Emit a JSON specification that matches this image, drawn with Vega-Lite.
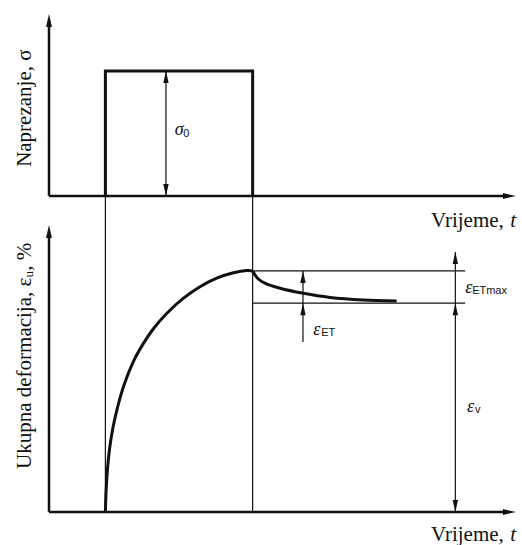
{
  "$schema": "https://vega.github.io/schema/vega-lite/v6.json",
  "width": 466,
  "height": 545,
  "autosize": {"type": "none"},
  "padding": {"left": 49, "top": 0, "right": 7, "bottom": 0},
  "background": "white",
  "config": {"view": {"stroke": null}},
  "datasets": {
    "lines": [
      {"g": "axis", "s": "ya1", "i": 0, "t": 0, "v": 100},
      {"g": "axis", "s": "ya1", "i": 1, "t": 0, "v": 155.5},
      {"g": "axis", "s": "xa1", "i": 0, "t": 0, "v": 100},
      {"g": "axis", "s": "xa1", "i": 1, "t": 98.5, "v": 100},
      {"g": "axis", "s": "ya2", "i": 0, "t": 0, "v": 0},
      {"g": "axis", "s": "ya2", "i": 1, "t": 0, "v": 88.7},
      {"g": "axis", "s": "xa2", "i": 0, "t": 0, "v": 0},
      {"g": "axis", "s": "xa2", "i": 1, "t": 98.5, "v": 0},
      {"g": "load", "s": "r", "i": 0, "t": 12.1, "v": 100},
      {"g": "load", "s": "r", "i": 1, "t": 12.1, "v": 139.6},
      {"g": "load", "s": "r", "i": 2, "t": 43.7, "v": 139.6},
      {"g": "load", "s": "r", "i": 3, "t": 43.7, "v": 100},
      {"g": "guide", "s": "g1", "i": 0, "t": 12.1, "v": 0},
      {"g": "guide", "s": "g1", "i": 1, "t": 12.1, "v": 100},
      {"g": "guide", "s": "g2", "i": 0, "t": 43.7, "v": 0},
      {"g": "guide", "s": "g2", "i": 1, "t": 43.7, "v": 100},
      {"g": "guide", "s": "h1", "i": 0, "t": 43.7, "v": 76.3},
      {"g": "guide", "s": "h1", "i": 1, "t": 89.3, "v": 76.3},
      {"g": "guide", "s": "h2", "i": 0, "t": 43.7, "v": 66.1},
      {"g": "guide", "s": "h2", "i": 1, "t": 89.3, "v": 66.1},
      {"g": "guide", "s": "d1", "i": 0, "t": 25.1, "v": 100},
      {"g": "guide", "s": "d1", "i": 1, "t": 25.1, "v": 139.6},
      {"g": "guide", "s": "d2", "i": 0, "t": 54.5, "v": 76.3},
      {"g": "guide", "s": "d2", "i": 1, "t": 54.5, "v": 53.8},
      {"g": "guide", "s": "d3", "i": 0, "t": 87.2, "v": 82.3},
      {"g": "guide", "s": "d3", "i": 1, "t": 87.2, "v": 0},
      {"g": "curve", "s": "c1", "i": 0, "t": 12.1, "v": 0},
      {"g": "curve", "s": "c1", "i": 1, "t": 12.25, "v": 6.5},
      {"g": "curve", "s": "c1", "i": 2, "t": 12.55, "v": 13.5},
      {"g": "curve", "s": "c1", "i": 3, "t": 13.0, "v": 20.0},
      {"g": "curve", "s": "c1", "i": 4, "t": 13.7, "v": 26.5},
      {"g": "curve", "s": "c1", "i": 5, "t": 14.6, "v": 32.5},
      {"g": "curve", "s": "c1", "i": 6, "t": 16.1, "v": 40.2},
      {"g": "curve", "s": "c1", "i": 7, "t": 18.1, "v": 47.6},
      {"g": "curve", "s": "c1", "i": 8, "t": 20.2, "v": 53.2},
      {"g": "curve", "s": "c1", "i": 9, "t": 22.4, "v": 58.0},
      {"g": "curve", "s": "c1", "i": 10, "t": 25.3, "v": 62.9},
      {"g": "curve", "s": "c1", "i": 11, "t": 28.8, "v": 67.6},
      {"g": "curve", "s": "c1", "i": 12, "t": 32.4, "v": 71.3},
      {"g": "curve", "s": "c1", "i": 13, "t": 36.0, "v": 74.0},
      {"g": "curve", "s": "c1", "i": 14, "t": 39.6, "v": 75.7},
      {"g": "curve", "s": "c1", "i": 15, "t": 42.4, "v": 76.4},
      {"g": "curve", "s": "c1", "i": 16, "t": 43.7, "v": 76.3},
      {"g": "curve", "s": "c2", "i": 0, "t": 43.7, "v": 76.3},
      {"g": "curve", "s": "c2", "i": 1, "t": 44.8, "v": 73.9},
      {"g": "curve", "s": "c2", "i": 2, "t": 46.2, "v": 72.5},
      {"g": "curve", "s": "c2", "i": 3, "t": 49.6, "v": 70.8},
      {"g": "curve", "s": "c2", "i": 4, "t": 54.6, "v": 69.2},
      {"g": "curve", "s": "c2", "i": 5, "t": 60.3, "v": 67.9},
      {"g": "curve", "s": "c2", "i": 6, "t": 67.4, "v": 67.1},
      {"g": "curve", "s": "c2", "i": 7, "t": 74.6, "v": 66.8}
    ],
    "heads": [
      {"k": "axis", "dir": "up", "t": 0, "v": 157.6},
      {"k": "axis", "dir": "up", "t": 0, "v": 90.8},
      {"k": "axis", "dir": "right", "t": 100.2, "v": 100},
      {"k": "axis", "dir": "right", "t": 100.2, "v": 0},
      {"k": "dim", "dir": "up", "t": 25.1, "v": 139.6},
      {"k": "dim", "dir": "down", "t": 25.1, "v": 100},
      {"k": "dim", "dir": "up", "t": 54.5, "v": 76.3},
      {"k": "dim", "dir": "up", "t": 54.5, "v": 66.1},
      {"k": "dim", "dir": "up", "t": 87.2, "v": 82.3},
      {"k": "dim", "dir": "up", "t": 87.2, "v": 66.1},
      {"k": "dim", "dir": "down", "t": 87.2, "v": 0}
    ],
    "labels": [
      {"k": "rot", "txt": "Naprezanje, σ", "t": -5.15, "v": 127.8},
      {"k": "rot", "txt": "Ukupna deformacija, εᵤ, %", "t": -5.15, "v": 49.4},
      {"k": "time", "txt": "Vrijeme,", "t": 97.6, "v": 90.2},
      {"k": "time", "txt": "Vrijeme,", "t": 97.6, "v": -9.2},
      {"k": "timevar", "txt": "t", "t": 99.0, "v": 90.2},
      {"k": "timevar", "txt": "t", "t": 99.0, "v": -9.2},
      {"k": "sym", "txt": "σ", "t": 27.0, "v": 120.9},
      {"k": "sym", "txt": "ε", "t": 56.7, "v": 57.6},
      {"k": "sym", "txt": "ε", "t": 89.3, "v": 71.0},
      {"k": "sym", "txt": "ε", "t": 89.7, "v": 33.2},
      {"k": "sub", "txt": "0", "t": 28.8, "v": 119.6},
      {"k": "sub", "txt": "ET", "t": 58.4, "v": 56.6},
      {"k": "sub", "txt": "ETmax", "t": 90.8, "v": 69.9},
      {"k": "sub", "txt": "v", "t": 91.4, "v": 32.3}
    ]
  },
  "encoding": {
    "x": {"field": "t", "type": "quantitative", "scale": {"domain": [0, 100], "nice": false, "zero": false}, "axis": null},
    "y": {"field": "v", "type": "quantitative", "scale": {"domain": [-10.44, 162.03], "nice": false, "zero": false}, "axis": null}
  },
  "layer": [
    {
      "data": {"name": "lines"},
      "transform": [{"filter": "datum.g === 'guide'"}],
      "mark": {"type": "line", "color": "#111", "strokeWidth": 1.2, "clip": false},
      "encoding": {"detail": {"field": "s"}, "order": {"field": "i", "type": "quantitative"}}
    },
    {
      "data": {"name": "lines"},
      "transform": [{"filter": "datum.g === 'axis'"}],
      "mark": {"type": "line", "color": "#111", "strokeWidth": 2.5, "clip": false},
      "encoding": {"detail": {"field": "s"}, "order": {"field": "i", "type": "quantitative"}}
    },
    {
      "data": {"name": "lines"},
      "transform": [{"filter": "datum.g === 'load'"}],
      "mark": {"type": "line", "color": "#111", "strokeWidth": 3, "strokeJoin": "miter", "clip": false},
      "encoding": {"detail": {"field": "s"}, "order": {"field": "i", "type": "quantitative"}}
    },
    {
      "data": {"name": "lines"},
      "transform": [{"filter": "datum.g === 'curve'"}],
      "mark": {"type": "line", "color": "#111", "strokeWidth": 3, "interpolate": "catmull-rom", "clip": false},
      "encoding": {"detail": {"field": "s"}, "order": {"field": "i", "type": "quantitative"}}
    },
    {
      "data": {"name": "heads"},
      "transform": [{"filter": "datum.k === 'axis'"}],
      "mark": {"type": "point", "filled": true, "color": "#111", "opacity": 1, "size": 169, "strokeWidth": 0},
      "encoding": {
        "shape": {"field": "dir", "type": "nominal", "legend": null,
          "scale": {"domain": ["up", "down", "right"], "range": ["M0,0L0.45,2L-0.45,2Z", "M0,0L0.45,-2L-0.45,-2Z", "M0,0L-2,0.45L-2,-0.45Z"]}}
      }
    },
    {
      "data": {"name": "heads"},
      "transform": [{"filter": "datum.k === 'dim'"}],
      "mark": {"type": "point", "filled": true, "color": "#111", "opacity": 1, "size": 144, "strokeWidth": 0},
      "encoding": {
        "shape": {"field": "dir", "type": "nominal", "legend": null}
      }
    },
    {
      "data": {"name": "labels"},
      "transform": [{"filter": "datum.k === 'rot'"}],
      "mark": {"type": "text", "font": "Liberation Serif", "fontSize": 21, "angle": 270, "align": "center", "baseline": "middle", "color": "#111"},
      "encoding": {"text": {"field": "txt"}}
    },
    {
      "data": {"name": "labels"},
      "transform": [{"filter": "datum.k === 'time'"}],
      "mark": {"type": "text", "font": "Liberation Serif", "fontSize": 21, "align": "right", "baseline": "alphabetic", "color": "#111"},
      "encoding": {"text": {"field": "txt"}}
    },
    {
      "data": {"name": "labels"},
      "transform": [{"filter": "datum.k === 'timevar'"}],
      "mark": {"type": "text", "font": "Liberation Serif", "fontStyle": "italic", "fontSize": 21, "align": "left", "baseline": "alphabetic", "color": "#111"},
      "encoding": {"text": {"field": "txt"}}
    },
    {
      "data": {"name": "labels"},
      "transform": [{"filter": "datum.k === 'sym'"}],
      "mark": {"type": "text", "font": "Liberation Serif", "fontStyle": "italic", "fontSize": 18, "align": "left", "baseline": "middle", "color": "#111"},
      "encoding": {"text": {"field": "txt"}}
    },
    {
      "data": {"name": "labels"},
      "transform": [{"filter": "datum.k === 'sub'"}],
      "mark": {"type": "text", "font": "Liberation Sans", "fontSize": 11, "align": "left", "baseline": "middle", "color": "#111"},
      "encoding": {"text": {"field": "txt"}}
    }
  ]
}
